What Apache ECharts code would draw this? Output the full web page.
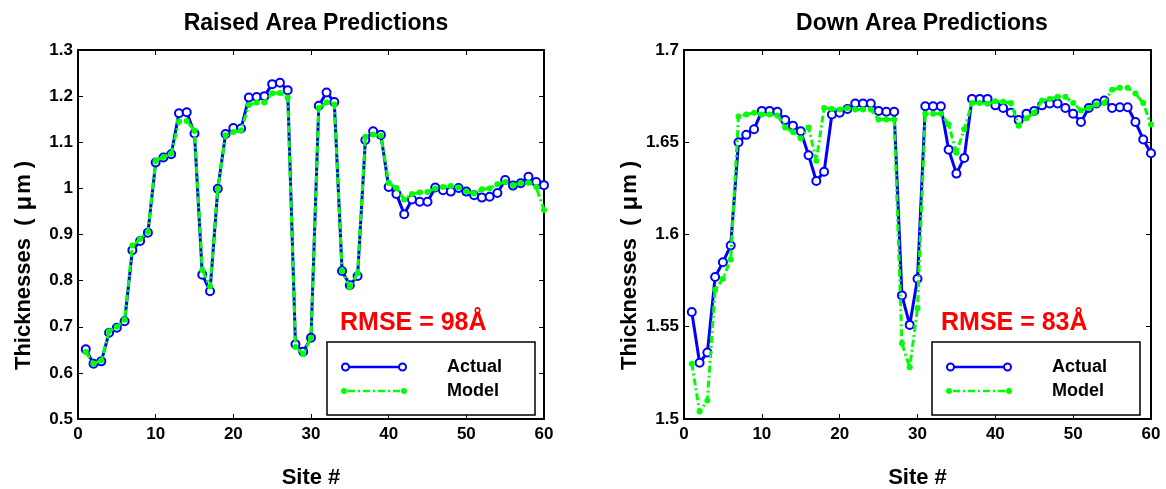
<!DOCTYPE html>
<html>
<head>
<meta charset="utf-8">
<script src="https://cdn.jsdelivr.net/npm/echarts@6/dist/echarts.min.js"></script>
<style>
    body{ margin:0; background:#fff; }
    #chart{ width:1166px; height:489px; }
</style>
</head>
<body>
<div id="chart"></div>
<script>
var sites = [];
for (var i = 1; i <= 60; i++) sites.push(i);

var raisedActual = [0.651,0.620,0.625,0.687,0.698,0.712,0.866,0.886,0.904,1.056,
    1.067,1.074,1.163,1.165,1.119,0.813,0.777,0.999,1.118,1.131,
    1.130,1.197,1.198,1.200,1.226,1.229,1.213,0.662,0.646,0.676,
    1.179,1.208,1.187,0.821,0.790,0.810,1.105,1.124,1.116,1.003,
    0.988,0.944,0.976,0.971,0.971,1.002,0.996,0.993,1.001,0.993,
    0.985,0.980,0.982,0.990,1.018,1.006,1.011,1.025,1.014,1.007];
var raisedModel = [0.645,0.620,0.627,0.690,0.700,0.715,0.876,0.890,0.906,1.060,
    1.068,1.075,1.145,1.146,1.125,0.823,0.787,1.000,1.115,1.122,
    1.126,1.181,1.186,1.186,1.206,1.207,1.197,0.656,0.641,0.676,
    1.174,1.186,1.182,0.821,0.786,0.816,1.112,1.117,1.114,1.012,
    1.001,0.976,0.988,0.991,0.992,1.000,1.003,1.005,1.002,0.993,
    0.989,0.998,1.000,1.009,1.014,1.007,1.011,1.012,1.003,0.953];
var downActual = [1.558,1.5305,1.536,1.577,1.585,1.594,1.650,1.654,1.657,1.667,
    1.667,1.6665,1.662,1.659,1.656,1.643,1.629,1.634,1.665,1.666,
    1.668,1.671,1.671,1.671,1.667,1.6665,1.6665,1.567,1.551,1.576,
    1.6695,1.6695,1.6695,1.646,1.633,1.6415,1.6735,1.6735,1.6735,1.670,
    1.6686,1.666,1.662,1.6655,1.667,1.670,1.671,1.671,1.6686,1.6655,
    1.661,1.6686,1.671,1.6726,1.6686,1.669,1.669,1.661,1.6515,1.644];
var downModel = [1.530,1.504,1.510,1.570,1.576,1.5865,1.664,1.665,1.666,1.665,
    1.665,1.6645,1.658,1.6555,1.652,1.658,1.640,1.6686,1.668,1.6677,
    1.6686,1.6677,1.6677,1.6677,1.6623,1.6623,1.6623,1.541,1.528,1.560,
    1.6655,1.6655,1.6655,1.6596,1.6443,1.657,1.6713,1.6713,1.6708,1.6722,
    1.672,1.6713,1.659,1.663,1.666,1.6726,1.6735,1.6746,1.6746,1.6713,
    1.6672,1.6686,1.6705,1.6713,1.6785,1.6795,1.6795,1.6764,1.6713,1.6596];

var titles = ['Raised Area Predictions', 'Down Area Predictions'];
var rmseText = ['RMSE = 98Å', 'RMSE = 83Å'];

var FONT = "'Liberation Sans', Arial, sans-serif";

// legend icons: line with ring at each end / dash-dot with dot at each end
var ICON_ACTUAL = 'path://M0,4.5 A4.5,4.5 0 1 1 9,4.5 A4.5,4.5 0 1 1 0,4.5 Z ' +
    'M2,4.5 A2.5,2.5 0 1 0 7,4.5 A2.5,2.5 0 1 0 2,4.5 Z ' +
    'M57,4.5 A4.5,4.5 0 1 1 66,4.5 A4.5,4.5 0 1 1 57,4.5 Z ' +
    'M59,4.5 A2.5,2.5 0 1 0 64,4.5 A2.5,2.5 0 1 0 59,4.5 Z ' +
    'M8.5,3.2 L57.5,3.2 L57.5,5.8 L8.5,5.8 Z';
var ICON_MODEL = 'path://M0,3 A3,3 0 1 1 6,3 A3,3 0 1 1 0,3 Z ' +
    'M60,3 A3,3 0 1 1 66,3 A3,3 0 1 1 60,3 Z ' +
    'M7,1.7 L14,1.7 L14,4.3 L7,4.3 Z M17,1.7 L19,1.7 L19,4.3 L17,4.3 Z ' +
    'M22,1.7 L29,1.7 L29,4.3 L22,4.3 Z M32,1.7 L34,1.7 L34,4.3 L32,4.3 Z ' +
    'M37,1.7 L44,1.7 L44,4.3 L37,4.3 Z M47,1.7 L49,1.7 L49,4.3 L47,4.3 Z ' +
    'M52,1.7 L59,1.7 L59,4.3 L52,4.3 Z';

function pairs(ys){
    return sites.map(function(s, k){ return [s, ys[k]]; });
}

var gridPos = [
    {left:78, top:50, width:466, height:369, outerBoundsMode:'none', containLabel:false},
    {left:684, top:50, width:467, height:369, outerBoundsMode:'none', containLabel:false}
];

var nameRich = {
    a:{fontFamily:FONT, fontWeight:'bold', fontSize:22, color:'#000'},
    p:{fontFamily:FONT, fontWeight:'bold', fontSize:22, color:'#000', padding:[0,6,0,6]},
    u:{fontFamily:FONT, fontSize:24, color:'#000', padding:[0,2,0,2]}
};

function xAx(gi, top){
    return {
        type:'value', gridIndex:gi, min:0, max:60, interval:10,
        position: top ? 'top' : 'bottom',
        name: top ? '' : 'Site #',
        nameLocation:'middle', nameGap:48,
        nameTextStyle:{fontFamily:FONT, fontWeight:'bold', fontSize:22, color:'#000'},
        axisLine:{show:true, onZero:false, lineStyle:{color:'#000', width:2}},
        axisTick:{show:true, inside:true, length:5, lineStyle:{color:'#000', width:1}},
        axisLabel:{show:!top, margin:7, color:'#000', fontFamily:FONT, fontWeight:'bold', fontSize:17},
        splitLine:{show:false}
    };
}
function yAx(gi, right, mn, mx, step){
    return {
        type:'value', gridIndex:gi, min:mn, max:mx, interval:step,
        position: right ? 'right' : 'left',
        name: right ? '' : '{a|Thicknesses }{p|(}{u|μ}{a|m}{p|)}',
        nameLocation:'middle', nameGap:42,
        nameTextStyle:{fontFamily:FONT, fontWeight:'bold', fontSize:22, color:'#000',
            padding:[0,56,0,0], rich:nameRich},
        axisLine:{show:true, onZero:false, lineStyle:{color:'#000', width:2}},
        axisTick:{show:true, inside:true, length:5, lineStyle:{color:'#000', width:1}},
        axisLabel:{show:!right, margin:5, color:'#000', fontFamily:FONT, fontWeight:'bold', fontSize:17},
        splitLine:{show:false}
    };
}

function actualSeries(xi, yi, ys){
    return {
        name:'Actual', type:'line', xAxisIndex:xi, yAxisIndex:yi,
        data:pairs(ys),
        symbol:'emptyCircle', symbolSize:8,
        lineStyle:{color:'#0000ff', width:3},
        itemStyle:{color:'#0000ff', borderColor:'#0000ff', borderWidth:2.5},
        animation:false, z:2
    };
}
function modelSeries(xi, yi, ys){
    return {
        name:'Model', type:'line', xAxisIndex:xi, yAxisIndex:yi,
        data:pairs(ys),
        symbol:'circle', symbolSize:6,
        lineStyle:{color:'#00ff00', width:3, type:[7,3,2,3]},
        itemStyle:{color:'#00ff00'},
        animation:false, z:3
    };
}

function legendAt(left){
    return {
        data:[
            {name:'Actual', icon:ICON_ACTUAL, itemStyle:{color:'#0000ff', borderWidth:0}},
            {name:'Model', icon:ICON_MODEL, itemStyle:{color:'#00ff00', borderWidth:0}}
        ],
        orient:'vertical', left:left, top:342,
        itemWidth:66, itemHeight:14, itemGap:6,
        padding:[16,33,15,14],
        borderColor:'#000', borderWidth:1.5, backgroundColor:'#fff',
        selectedMode:false,
        textStyle:{fontFamily:FONT, fontWeight:'bold', fontSize:18, color:'#000', padding:[0,0,0,35]}
    };
}

var myChart = echarts.init(document.getElementById('chart'));

var option = {
    backgroundColor:'#fff',
    animation:false,
    title:[
        {text:titles[0], left:311, top:7, textAlign:'center',
            textStyle:{fontFamily:FONT, fontWeight:'bold', fontSize:23, color:'#000'}},
        {text:titles[1], left:917, top:7, textAlign:'center',
            textStyle:{fontFamily:FONT, fontWeight:'bold', fontSize:23, color:'#000'}}
    ],
    grid:gridPos,
    xAxis:[xAx(0,false), xAx(0,true), xAx(1,false), xAx(1,true)],
    yAxis:[yAx(0,false,0.5,1.3,0.1), yAx(0,true,0.5,1.3,0.1),
           yAx(1,false,1.5,1.7,0.05), yAx(1,true,1.5,1.7,0.05)],
    legend:[legendAt(327), legendAt(932)],
    graphic:[
        {type:'text', left:340, top:311,
            style:{text:rmseText[0], fill:'#ff0000', font:'bold 25px ' + FONT}},
        {type:'text', left:941, top:311,
            style:{text:rmseText[1], fill:'#ff0000', font:'bold 25px ' + FONT}}
    ],
    series:[
        actualSeries(0,0,raisedActual),
        modelSeries(0,0,raisedModel),
        actualSeries(2,2,downActual),
        modelSeries(2,2,downModel)
    ]
};

myChart.setOption(option);
</script>
</body>
</html>
